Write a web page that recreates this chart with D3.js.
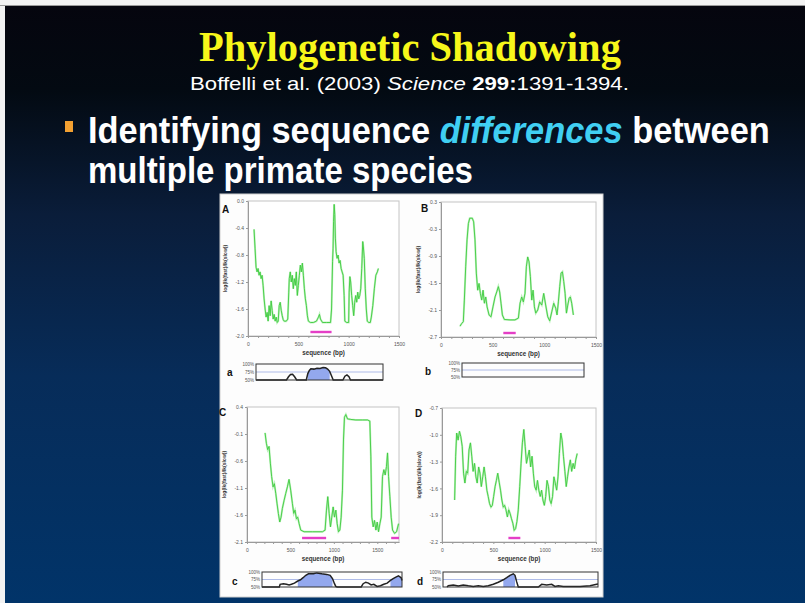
<!DOCTYPE html>
<html>
<head>
<meta charset="utf-8">
<script src="https://cdn.jsdelivr.net/npm/d3@7"></script>
<style>
  body { margin: 0; background: #fff; }
  svg { display: block; }
</style>
</head>
<body>
<svg id="slide" width="805" height="603"></svg>
<script>
// ---------------------------------------------
//  Data (bp, value)
// ---------------------------------------------

// panel A: log(lk(fast)/lk(slow)) along the sequence
const seriesA = [
  [60,-0.42],[70,-0.70],[80,-0.98],[90,-1.05],[100,-1.00],[110,-1.10],[120,-1.05],[130,-1.15],[140,-1.10],
  [150,-1.25],[160,-1.45],[170,-1.60],[180,-1.72],[190,-1.65],[200,-1.78],[210,-1.55],[220,-1.70],[230,-1.48],
  [240,-1.62],[250,-1.75],[260,-1.68],[270,-1.78],[280,-1.72],[290,-1.80],[300,-1.78],[310,-1.55],[320,-1.50],
  [330,-1.62],[340,-1.70],[350,-1.76],[360,-1.78],[380,-1.78],[395,-1.75],[405,-1.35],[410,-1.15],[420,-1.05],
  [430,-1.20],[440,-1.10],[450,-1.30],[460,-1.15],[470,-1.25],[480,-1.05],[490,-1.40],[500,-1.25],[510,-1.10],
  [520,-0.95],[530,-1.05],[540,-0.92],[550,-1.10],[560,-1.30],[570,-1.45],[580,-1.55],[590,-1.70],[600,-1.78],
  [620,-1.80],[650,-1.80],[680,-1.78],[700,-1.72],[710,-1.68],[720,-1.75],[740,-1.80],[780,-1.80],[820,-1.80],
  [830,-1.60],[840,-0.90],[845,-0.70],[850,-0.30],[856,-0.05],[862,-0.20],[868,-0.55],[875,-0.75],[885,-0.85],
  [895,-0.80],[905,-0.92],[915,-0.88],[925,-1.00],[935,-1.05],[945,-1.10],[955,-1.40],[962,-1.78],[980,-1.80],
  [1000,-1.80],[1005,-1.35],[1012,-1.12],[1020,-1.20],[1030,-1.40],[1040,-1.55],[1050,-1.70],[1060,-1.50],
  [1070,-1.40],[1080,-1.50],[1090,-1.35],[1100,-1.45],[1110,-1.40],[1120,-1.30],[1130,-1.00],[1140,-0.60],
  [1146,-0.68],[1155,-0.85],[1165,-1.30],[1175,-1.60],[1185,-1.78],[1200,-1.80],[1215,-1.80],[1225,-1.72],
  [1240,-1.55],[1255,-1.30],[1270,-1.10],[1285,-1.05],[1295,-1.00]
];

const seriesB = [
  [184,-2.46],[200,-2.40],[216,-2.36],[226,-1.88],[239,-1.14],[252,-0.54],[265,-0.18],[278,-0.06],[303,-0.06],
  [316,-0.14],[329,-0.54],[342,-1.28],[355,-1.66],[368,-1.51],[381,-1.73],[394,-1.88],[407,-1.66],[420,-1.95],
  [433,-1.81],[446,-2.03],[465,-2.21],[484,-2.25],[503,-2.03],[523,-1.81],[539,-1.70],[555,-1.58],[568,-1.70],
  [581,-1.95],[594,-2.21],[613,-2.31],[668,-2.32],[716,-2.32],[749,-2.28],[765,-1.95],[781,-1.81],[797,-1.92],
  [813,-1.73],[826,-1.14],[839,-0.92],[852,-1.03],[865,-1.36],[878,-1.88],[891,-1.66],[904,-2.03],[917,-2.17],
  [936,-2.10],[955,-1.92],[975,-1.99],[994,-1.73],[1013,-1.99],[1033,-2.25],[1052,-2.34],[1072,-2.14],
  [1091,-1.95],[1110,-2.06],[1123,-2.21],[1136,-1.92],[1149,-1.58],[1162,-1.28],[1175,-1.25],[1188,-1.47],
  [1201,-1.73],[1214,-2.17],[1227,-1.99],[1240,-1.84],[1252,-1.81],[1265,-1.95],[1281,-2.21]
];

const seriesC = [
  [208,-0.08],[223,-0.27],[238,-0.39],[254,-0.33],[269,-0.64],[284,-0.89],[300,-1.08],[315,-1.02],[331,-1.20],
  [346,-1.39],[361,-1.57],[377,-1.73],[392,-1.64],[407,-1.48],[427,-1.33],[446,-1.20],[465,-1.08],[484,-0.94],
  [503,-1.14],[523,-1.39],[538,-1.57],[553,-1.51],[569,-1.67],[584,-1.64],[600,-1.76],[619,-1.88],[657,-1.91],
  [753,-1.91],[869,-1.91],[899,-1.88],[915,-1.51],[930,-1.26],[946,-1.57],[961,-1.82],[976,-1.64],[992,-1.45],
  [1007,-1.64],[1023,-1.51],[1038,-1.76],[1053,-1.91],[1069,-1.88],[1084,-1.64],[1099,-1.14],[1111,-0.21],
  [1122,0.21],[1138,0.26],[1157,0.18],[1195,0.17],[1253,0.16],[1330,0.16],[1387,0.16],[1414,0.14],[1426,-0.51],
  [1437,-1.64],[1453,-1.82],[1468,-1.70],[1484,-1.88],[1499,-1.73],[1514,-1.91],[1530,-1.76],[1545,-1.64],
  [1560,-0.89],[1576,-0.76],[1591,-0.86],[1606,-0.70],[1618,-0.45],[1630,-0.89],[1645,-1.26],[1660,-1.64],
  [1676,-1.88],[1699,-1.94],[1722,-1.91],[1745,-1.76]
];

const seriesD = [
  [123,-1.73],[133,-1.24],[143,-0.98],[157,-1.06],[170,-0.96],[183,-1.02],[197,-1.13],[210,-1.43],[223,-1.54],
  [237,-1.41],[250,-1.43],[263,-1.17],[277,-1.09],[290,-1.24],[303,-1.41],[317,-1.32],[330,-1.47],[343,-1.54],
  [357,-1.36],[370,-1.43],[383,-1.58],[397,-1.47],[410,-1.36],[423,-1.47],[437,-1.62],[450,-1.69],[463,-1.77],
  [477,-1.81],[490,-1.79],[503,-1.69],[517,-1.58],[530,-1.51],[543,-1.43],[557,-1.53],[570,-1.62],[583,-1.73],
  [597,-1.81],[610,-1.79],[623,-1.84],[637,-1.92],[650,-1.84],[663,-1.88],[677,-1.94],[690,-1.99],[703,-2.07],
  [717,-2.05],[730,-1.97],[743,-1.84],[757,-1.58],[770,-1.32],[783,-1.09],[797,-0.94],[810,-1.13],[823,-1.32],
  [837,-1.24],[850,-1.17],[863,-1.36],[877,-1.24],[890,-1.43],[903,-1.58],[917,-1.62],[930,-1.51],[943,-1.62],
  [957,-1.69],[970,-1.62],[983,-1.73],[997,-1.79],[1010,-1.69],[1023,-1.51],[1037,-1.58],[1050,-1.73],
  [1063,-1.77],[1077,-1.69],[1090,-1.47],[1103,-1.54],[1117,-1.62],[1130,-1.47],[1143,-1.21],[1157,-0.98],
  [1170,-1.06],[1183,-1.24],[1197,-1.41],[1210,-1.58],[1223,-1.47],[1237,-1.36],[1250,-1.28],[1263,-1.41],
  [1277,-1.32],[1290,-1.38],[1303,-1.28],[1317,-1.21]
];

// magenta bars (bp ranges)
const barsA = [[620, 830]];
const barsB = [[603, 723]];
const barsC = [[634, 911], [1660, 1750]];
const barsD = [[647, 763]];

// tick labels
const yTicksA = [0.0, -0.4, -0.8, -1.2, -1.6, -2.0];
const yTicksB = [0.3, -0.3, -0.9, -1.5, -2.1, -2.7];
const yTicksC = [0.4, -0.1, -0.6, -1.1, -1.6, -2.1];
const yTicksD = [-0.7, -1.0, -1.3, -1.6, -1.9, -2.2];
const xTickLabels = [0, 500, 1000, 1500];
const pctLabels = ["100%", "75%", "50%"];

// small conservation strips a-d (bp, % identity)
const miniA = [
  [80,50],[380,50],[400,60],[420,67],[440,68],[460,60],[480,50],[575,50],[590,70],[605,80],[620,85],[650,84],
  [680,87],[710,86],[740,89],[765,88],[785,84],[805,77],[825,62],[840,50],[935,50],[955,62],[975,66],[995,60],
  [1010,50],[1330,50]
];
const miniB = [];
const miniC = [
  [160,50],[360,50],[369,59],[407,61],[442,59],[473,57],[500,59],[534,63],[573,70],[604,74],[634,81],[665,89],
  [696,94],[754,94],[792,97],[850,94],[907,92],[946,89],[973,78],[996,61],[1011,52],[1027,50],[1304,50],
  [1327,61],[1357,66],[1388,63],[1419,57],[1450,59],[1488,52],[1527,54],[1565,59],[1604,63],[1642,72],
  [1673,78],[1704,83],[1734,87],[1765,81],[1775,72]
];
const miniD = [
  [40,50],[53,54],[103,57],[153,53],[203,57],[253,54],[303,52],[353,54],[403,52],[453,54],[503,59],[553,66],
  [603,74],[637,81],[670,89],[703,94],[720,89],[737,67],[753,50],[953,50],[987,59],[1037,57],[1087,59],
  [1120,52],[1153,54],[1203,52],[1370,52],[1470,54],[1537,59],[1550,60]
];

// ---------------------------------------------
//  Layout
// ---------------------------------------------
const W = 805, H = 603;
const svg = d3.select("#slide");
const SANS = "Liberation Sans, Arial, sans-serif";

const panels = [
  { letter: "A", data: seriesA, bars: barsA, yTicks: yTicksA, xMax: 1500,
    left: 248, right: 399, top: 201, bottom: 336, lx: 222, ly: 213 },
  { letter: "B", data: seriesB, bars: barsB, yTicks: yTicksB, xMax: 1500,
    left: 441, right: 596, top: 202, bottom: 337, lx: 421, ly: 212 },
  { letter: "C", data: seriesC, bars: barsC, yTicks: yTicksC, xMax: 1750,
    left: 247, right: 399, top: 407, bottom: 542, lx: 219, ly: 416 },
  { letter: "D", data: seriesD, bars: barsD, yTicks: yTicksD, xMax: 1500,
    left: 442, right: 596, top: 408, bottom: 542, lx: 415, ly: 417 }
];

const minis = [
  { letter: "a", data: miniA, domain: [80, 1330], left: 256, right: 383, top: 364, bottom: 380, lx: 227, ly: 376 },
  { letter: "b", data: miniB, domain: [190, 1290], left: 462, right: 584, top: 363, bottom: 377, lx: 425, ly: 375 },
  { letter: "c", data: miniC, domain: [160, 1775], left: 262, right: 402, top: 572, bottom: 587, lx: 232, ly: 585 },
  { letter: "d", data: miniD, domain: [0, 1550], left: 443, right: 598, top: 572, bottom: 587, lx: 417, ly: 585 }
];

// ---------------------------------------------
//  Slide background
// ---------------------------------------------
const defs = svg.append("defs");
const bg = defs.append("linearGradient").attr("id", "bg")
  .attr("x1", 0).attr("y1", 0).attr("x2", 0).attr("y2", 1);
[[0, "#05050e"], [0.14, "#030a12"], [0.35, "#0a1d3a"], [0.62, "#072c59"], [1, "#013469"]]
  .forEach(([o, c]) => bg.append("stop").attr("offset", o).attr("stop-color", c));

svg.append("rect").attr("width", W).attr("height", H).attr("fill", "#f2f2f2");
svg.append("rect").attr("x", 5).attr("y", 6).attr("width", W - 5).attr("height", H - 6).attr("fill", "url(#bg)");
svg.append("line").attr("x1", 0).attr("x2", W).attr("y1", 5.5).attr("y2", 5.5).attr("stroke", "#9a9a9a");

// squeeze a text horizontally so it spans [left, left + width]
function fitText(t, left, baseline, width) {
  const w = t.node().getComputedTextLength();
  t.attr("transform", `translate(${left},${baseline}) scale(${width / w},1)`);
}

const title = svg.append("text")
  .attr("font-family", "Liberation Serif, Times New Roman, serif")
  .attr("font-weight", "bold").attr("font-size", 42).attr("fill", "#f7f71a")
  .text("Phylogenetic Shadowing");
fitText(title, 199, 61, 422);

const cite = svg.append("text").attr("font-family", SANS).attr("font-size", 19).attr("fill", "#fff");
cite.append("tspan").text("Boffelli et al. (2003) ");
cite.append("tspan").attr("font-style", "italic").text("Science");
cite.append("tspan").text(" ");
cite.append("tspan").attr("font-weight", "bold").text("299:");
cite.append("tspan").text("1391-1394.");
fitText(cite, 190, 90, 439);

svg.append("rect").attr("x", 65).attr("y", 121).attr("width", 8).attr("height", 11).attr("fill", "#f2a031");

const line1 = svg.append("text").attr("font-family", SANS).attr("font-weight", "bold")
  .attr("font-size", 37).attr("fill", "#fff");
line1.append("tspan").text("Identifying sequence ");
line1.append("tspan").attr("font-style", "italic").attr("fill", "#40cff2").text("differences");
line1.append("tspan").text(" between");
fitText(line1, 88, 143, 682);

const line2 = svg.append("text").attr("font-family", SANS).attr("font-weight", "bold")
  .attr("font-size", 37).attr("fill", "#fff").text("multiple primate species");
fitText(line2, 88, 183, 385);

// ---------------------------------------------
//  Figure
// ---------------------------------------------
svg.append("rect").attr("x", 220).attr("y", 194).attr("width", 383).attr("height", 403)
  .attr("fill", "#fdfdfd").attr("stroke", "#d0d0d0");

function styleAxis(g) {
  g.attr("font-size", 5).attr("font-family", SANS);
  g.select(".domain").attr("stroke", "#9a9a9a");
  g.selectAll(".tick line").attr("stroke", "#9a9a9a");
  g.selectAll(".tick text").attr("fill", "#555");
}

panels.forEach(p => {
  const x = d3.scaleLinear().domain([0, p.xMax]).range([p.left, p.right]);
  const y = d3.scaleLinear()
    .domain([p.yTicks[p.yTicks.length - 1], p.yTicks[0]])
    .range([p.bottom, p.top]);
  const g = svg.append("g");

  g.append("rect").attr("x", p.left).attr("y", p.top)
    .attr("width", p.right - p.left).attr("height", p.bottom - p.top)
    .attr("fill", "#fff").attr("stroke", "#c4c4c4");

  g.append("g").attr("transform", `translate(${p.left},0)`)
    .call(d3.axisLeft(y).tickValues(p.yTicks).tickFormat(d => d.toFixed(1))
      .tickSizeInner(2).tickSizeOuter(0).tickPadding(2))
    .call(styleAxis);

  g.append("g").attr("transform", `translate(0,${p.bottom})`)
    .call(d3.axisBottom(x).tickValues(d3.range(0, p.xMax + 1, 100))
      .tickFormat(d => xTickLabels.includes(d) ? d : "")
      .tickSizeInner(2).tickSizeOuter(0).tickPadding(4))
    .call(styleAxis);

  g.selectAll(".bar").data(p.bars).join("line")
    .attr("x1", d => x(d[0])).attr("x2", d => x(d[1]))
    .attr("y1", p.bottom - 4).attr("y2", p.bottom - 4)
    .attr("stroke", "#e43fc6").attr("stroke-width", 2.4);

  const line = d3.line().x(d => x(d[0])).y(d => y(d[1]));
  g.append("path").datum(p.data).attr("d", line)
    .attr("fill", "none").attr("stroke", "#8fe88f").attr("stroke-width", 2).attr("opacity", 0.6);
  g.append("path").datum(p.data).attr("d", line)
    .attr("fill", "none").attr("stroke", "#3fcb3f").attr("stroke-width", 0.9);

  g.append("text").attr("x", (p.left + p.right) / 2).attr("y", p.bottom + 19)
    .attr("text-anchor", "middle").attr("font-family", SANS).attr("font-weight", "bold")
    .attr("font-size", 6.3).attr("fill", "#333").text("sequence (bp)");

  g.append("text")
    .attr("transform", `translate(${p.left - 21},${(p.top + p.bottom) / 2}) rotate(-90)`)
    .attr("text-anchor", "middle").attr("font-family", SANS).attr("font-weight", "bold")
    .attr("font-size", 5).attr("fill", "#333").text("log(lk(fast)/lk(slow))");

  g.append("text").attr("x", p.lx).attr("y", p.ly)
    .attr("font-family", SANS).attr("font-weight", "bold").attr("font-size", 10)
    .attr("fill", "#111").text(p.letter);
});

minis.forEach(m => {
  const x = d3.scaleLinear().domain(m.domain).range([m.left, m.right]);
  const y = d3.scaleLinear().domain([50, 100]).range([m.bottom, m.top]);
  const g = svg.append("g");

  g.append("line").attr("x1", m.left).attr("x2", m.right)
    .attr("y1", y(75)).attr("y2", y(75)).attr("stroke", "#aebbe8").attr("stroke-width", 1);

  const area = d3.area().defined(d => d[1] >= 70)
    .x(d => x(d[0])).y0(y(50)).y1(d => y(d[1]));
  g.append("path").datum(m.data).attr("d", area).attr("fill", "#93a8ee");

  const line = d3.line().x(d => x(d[0])).y(d => y(d[1]));
  g.append("path").datum(m.data).attr("d", line)
    .attr("fill", "none").attr("stroke", "#222").attr("stroke-width", 1.5);

  g.append("rect").attr("x", m.left).attr("y", m.top)
    .attr("width", m.right - m.left).attr("height", m.bottom - m.top)
    .attr("fill", "none").attr("stroke", "#333").attr("stroke-width", 1);

  g.selectAll(".pct").data(pctLabels).join("text")
    .attr("x", m.left - 2).attr("y", (d, i) => m.top + i * (m.bottom - m.top) / 2 + 1.7)
    .attr("text-anchor", "end").attr("font-family", SANS).attr("font-size", 4.5)
    .attr("fill", "#555").text(d => d);

  g.append("text").attr("x", m.lx).attr("y", m.ly)
    .attr("font-family", SANS).attr("font-weight", "bold").attr("font-size", 10)
    .attr("fill", "#111").text(m.letter);
});
</script>
</body>
</html>
